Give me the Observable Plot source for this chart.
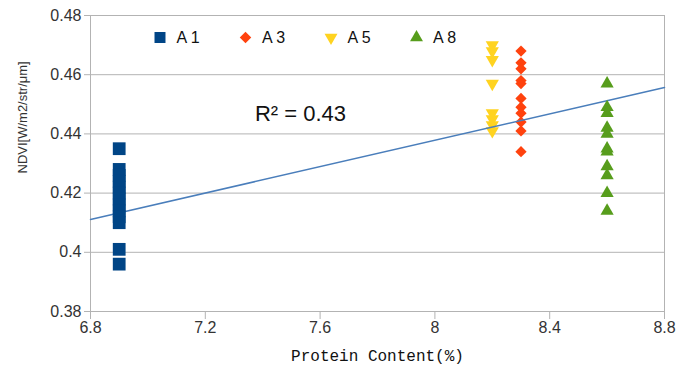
<!DOCTYPE html>
<html>
<head>
<meta charset="utf-8">
<script src="https://cdn.jsdelivr.net/npm/d3@7"></script>
<script src="https://cdn.jsdelivr.net/npm/@observablehq/plot@0.6"></script>
<style>
  html, body { margin: 0; padding: 0; background: #fff; }
  #chart svg { display: block; }
</style>
</head>
<body>
<div id="chart"></div>
<script>
// Series (x = protein content %, y = NDVI)
const a1X = 6.9;
const a1Y = [0.435, 0.428, 0.426, 0.424, 0.422, 0.420, 0.418, 0.416, 0.414, 0.412, 0.410, 0.401, 0.396];
const a3X = 8.3;
const a3Y = [0.468, 0.464, 0.462, 0.458, 0.457, 0.452, 0.449, 0.447, 0.444, 0.441, 0.434];
const a5X = 8.2;
const a5Y = [0.470, 0.468, 0.465, 0.457, 0.447, 0.445, 0.443, 0.441];
const a8X = 8.6;
const a8Y = [0.457, 0.449, 0.447, 0.442, 0.440, 0.435, 0.434, 0.429, 0.426, 0.420, 0.414];

// Trend line endpoints
const trendX = [6.8, 8.8];
const trendY = [0.4111, 0.4557];
const rSquaredLabel = "R² = 0.43";

const seriesNames = ["A 1", "A 3", "A 5", "A 8"];
const seriesColors = ["#004586", "#ff420e", "#ffd320", "#579d1c"];

const xTicks = [6.8, 7.2, 7.6, 8.0, 8.4, 8.8];
const yTicks = [0.38, 0.40, 0.42, 0.44, 0.46, 0.48];
const xLabel = "Protein Content(%)";
const yLabel = "NDVI[W/m2/str/μm]";

const toPts = (x, ys) => ys.map(y => ({x, y}));
const a1 = toPts(a1X, a1Y), a3 = toPts(a3X, a3Y), a5 = toPts(a5X, a5Y), a8 = toPts(a8X, a8Y);
const trend = trendX.map((x, i) => ({x, y: trendY[i]}));

const legendSymbols = [
  {symbol: "square", r: 6.2, rotate: 0},
  {symbol: "square", r: 4.6, rotate: 45},
  {symbol: "triangle", r: 4.8, rotate: 180},
  {symbol: "triangle", r: 4.8, rotate: 0}
];
const fmt = d => String(+d.toFixed(2));
const grid = "#b3b3b3";

const legendMarks = [];
seriesNames.forEach((name, i) => {
  const s = legendSymbols[i];
  legendMarks.push(Plot.dot([name], {frameAnchor: "top-left", dx: 69.5 + 85.5 * i, dy: 22,
    symbol: s.symbol, r: s.r, rotate: s.rotate, fill: seriesColors[i], stroke: "none"}));
  legendMarks.push(Plot.text([name], {frameAnchor: "top-left", dx: 86 + 85.5 * i, dy: 22,
    lineAnchor: "middle", text: d => d, textAnchor: "start", fontSize: 16, fill: "#111",
    fontFamily: "Liberation Sans, Arial, sans-serif"}));
});

const chart = Plot.plot({
  width: 694,
  height: 371,
  marginLeft: 90,
  marginRight: 30,
  marginTop: 15,
  marginBottom: 60,
  style: {fontFamily: "Liberation Sans, Arial, sans-serif", background: "#fff", color: "#333"},
  x: {domain: [6.8, 8.8]},
  y: {domain: [0.38, 0.48]},
  marks: [
    Plot.gridY(yTicks, {stroke: grid, strokeOpacity: 1, strokeWidth: 1}),
    Plot.frame({stroke: grid, strokeWidth: 1}),
    Plot.axisY({ticks: yTicks, tickFormat: fmt, tickSize: 6, tickPadding: 3, stroke: grid,
      fontSize: 16, fill: "#333", label: null}),
    Plot.axisX({ticks: xTicks, tickFormat: fmt, tickSize: 8, tickPadding: 2, stroke: grid,
      fontSize: 16, fill: "#333", label: null}),
    Plot.dot(a3, {x: "x", y: "y", symbol: "square", rotate: 45, r: 4.5, fill: seriesColors[1], stroke: "none"}),
    Plot.dot(a5, {x: "x", y: "y", symbol: "triangle", rotate: 180, r: 4.9, fill: seriesColors[2], stroke: "none"}),
    Plot.line(trend, {x: "x", y: "y", stroke: "#4a7ebb", strokeWidth: 1.5}),
    Plot.dot(a1, {x: "x", y: "y", symbol: "square", r: 7.2, fill: seriesColors[0], stroke: "none"}),
    Plot.dot(a8, {x: "x", y: "y", symbol: "triangle", r: 4.9, fill: seriesColors[3], stroke: "none"}),
    Plot.text([rSquaredLabel], {frameAnchor: "top-left", dx: 210, dy: 98, lineAnchor: "middle",
      text: d => d, fontSize: 22, fill: "#111", textAnchor: "middle"}),
    ...legendMarks,
    Plot.text([yLabel], {frameAnchor: "left", dx: -68, dy: 10, rotate: -90, text: d => d,
      lineAnchor: "middle", fontSize: 13, fill: "#333"}),
    Plot.text([xLabel], {frameAnchor: "bottom", dy: 44, lineAnchor: "middle", text: d => d,
      fontSize: 16, fill: "#111",
      fontFamily: "Liberation Mono, DejaVu Sans Mono, monospace", letterSpacing: "0.6px"})
  ]
});
document.getElementById("chart").appendChild(chart);
</script>
</body>
</html>
